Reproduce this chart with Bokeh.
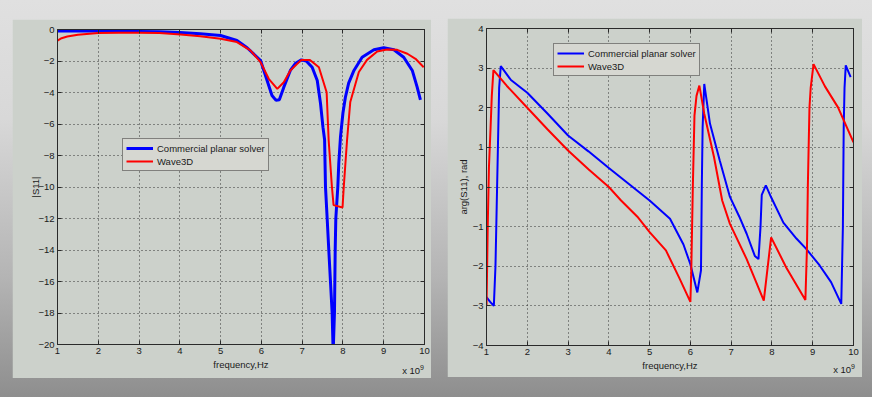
from bokeh.plotting import figure
from bokeh.layouts import row, column
from bokeh.models import (FixedTicker, LinearAxis, Legend, LegendItem, Range1d, Div,
                          CustomLabelingPolicy)
from bokeh.embed import file_html
from bokeh.resources import INLINE

# ---------------- data (frequency in GHz, axis note "x 10^9") ----------------
freq_ticks = [1, 2, 3, 4, 5, 6, 7, 8, 9, 10]
mag_ticks = [0, -2, -4, -6, -8, -10, -12, -14, -16, -18, -20]
phase_ticks = [-4, -3, -2, -1, 0, 1, 2, 3, 4]

series_names = ["Commercial planar solver", "Wave3D"]

# |S11| - commercial planar solver
mag_solver_f = [1.0, 1.5, 2.0, 2.5, 3.0, 3.5, 4.0, 4.5, 5.0, 5.4, 5.65, 5.98, 6.14, 6.26, 6.36,
                6.44, 6.55, 6.71, 6.84, 6.98, 7.1, 7.245, 7.37, 7.45, 7.51, 7.55, 7.572, 7.613,
                7.653, 7.694, 7.735, 7.76, 7.792, 7.81, 7.825, 7.874, 7.898, 7.94, 8.0, 8.06,
                8.14, 8.27, 8.47, 8.76, 9.0, 9.25, 9.49, 9.7, 9.82, 9.9]
mag_solver = [-0.1, -0.1, -0.1, -0.1, -0.12, -0.15, -0.19, -0.27, -0.38, -0.7, -1.16, -1.97,
              -3.24, -4.19, -4.5, -4.46, -3.66, -2.6, -2.14, -1.93, -2.0, -2.4, -3.24, -4.7,
              -6.2, -7.0, -10.0, -12.0, -14.0, -16.0, -18.0, -20.5, -18.0, -14.0, -12.0, -10.0,
              -8.5, -6.8, -5.3, -4.3, -3.4, -2.6, -1.76, -1.29, -1.16, -1.29, -1.76, -2.6,
              -3.66, -4.47]

# |S11| - Wave3D
mag_wave_f = [1.0, 1.1, 1.24, 1.5, 2.0, 2.5, 3.0, 3.5, 4.02, 4.5, 5.0, 5.4, 5.73, 5.98, 6.18,
              6.39, 6.55, 6.71, 6.98, 7.19, 7.41, 7.6, 7.65, 7.73, 7.77, 7.99, 8.02, 8.1, 8.18,
              8.39, 8.59, 8.84, 9.08, 9.33, 9.58, 9.78, 9.98]
mag_wave = [-0.7, -0.55, -0.45, -0.33, -0.22, -0.2, -0.2, -0.23, -0.32, -0.43, -0.59, -0.8,
            -1.33, -2.07, -3.13, -3.77, -3.35, -2.6, -1.93, -1.93, -2.4, -3.98, -7.05, -10.0,
            -11.15, -11.3, -10.0, -7.05, -4.6, -2.7, -1.93, -1.4, -1.27, -1.29, -1.54, -1.86,
            -2.4]

# arg(S11) - commercial planar solver
ph_solver_f = [1.0, 1.09, 1.18, 1.22, 1.25, 1.28, 1.31, 1.35, 1.6, 2.0, 2.5, 3.0, 3.5, 4.0,
               4.5, 5.0, 5.5, 5.83, 6.0, 6.17, 6.26, 6.28, 6.30, 6.34, 6.48, 6.72, 6.97, 7.2,
               7.38, 7.58, 7.67, 7.72, 7.75, 7.85, 7.98, 8.28, 8.6, 8.84, 9.17, 9.45, 9.70,
               9.74, 9.76, 9.78, 9.81, 9.93]
ph_solver = [-2.78, -2.9, -3.0, -2.0, -0.5, 1.0, 2.5, 3.05, 2.7, 2.38, 1.85, 1.3, 0.9, 0.48,
             0.07, -0.34, -0.8, -1.45, -1.95, -2.66, -2.1, 0.0, 1.5, 2.6, 1.6, 0.67, -0.25,
             -0.75, -1.18, -1.74, -1.82, -1.0, -0.2, 0.04, -0.26, -0.9, -1.3, -1.56, -1.98,
             -2.4, -2.95, -1.0, 1.5, 2.5, 3.07, 2.77]

# arg(S11) - Wave3D
ph_wave_f = [1.0, 1.01, 1.03, 1.06, 1.1, 1.13, 1.17, 1.5, 2.0, 2.5, 3.0, 3.5, 4.0, 4.3, 4.7,
             5.0, 5.4, 5.73, 6.0, 6.02, 6.06, 6.1, 6.15, 6.22, 6.34, 6.58, 6.78, 6.97, 7.38,
             7.8, 7.98, 8.35, 8.82, 8.86, 8.88, 8.92, 8.95, 9.02, 9.3, 9.62, 10.0]
ph_wave = [-3.0, -2.4, -1.0, 0.5, 1.5, 2.3, 2.95, 2.55, 2.0, 1.45, 0.92, 0.45, 0.0, -0.34,
           -0.75, -1.14, -1.6, -2.3, -2.9, -2.2, 0.0, 1.8, 2.3, 2.56, 1.85, 0.75, -0.34, -0.93,
           -1.82, -2.87, -1.27, -2.03, -2.85, -1.5, 0.0, 2.0, 2.5, 3.1, 2.54, 2.01, 1.13]

# ---------------- styling ----------------
PANEL = "#ccd1cb"
DARK = "#2a2a2a"
FONT = "Liberation Sans"
FS = "9.5px"
BLUE = "#0000ff"
RED = "#ff0000"


def style_axis(ax, ticks, show_labels=True, standoff=3):
    ax.ticker = FixedTicker(ticks=ticks)
    ax.major_tick_in = 4
    ax.major_tick_out = 0
    ax.minor_tick_line_color = None
    ax.major_tick_line_color = DARK
    ax.axis_line_color = DARK
    ax.major_label_text_font = FONT
    ax.major_label_text_color = "#1a1a1a"
    ax.axis_label_text_font = FONT
    ax.axis_label_text_font_size = FS
    ax.axis_label_text_font_style = "normal"
    ax.axis_label_text_color = "#1a1a1a"
    if show_labels:
        ax.major_label_text_font_size = FS
        ax.major_label_standoff = standoff
    else:
        ax.major_label_text_font_size = "1px"
        ax.major_label_standoff = 0
        ax.major_label_policy = CustomLabelingPolicy(code="if (false) { yield 0 }")


def make_fig(w, h, borders, yr, yticks, ylabel, ylabel_standoff):
    p = figure(width=w, height=h, x_range=Range1d(1, 10), y_range=Range1d(*yr),
               output_backend="svg", toolbar_location=None,
               min_border_left=borders[0], min_border_right=borders[1],
               min_border_top=borders[2], min_border_bottom=borders[3])
    p.background_fill_color = PANEL
    p.border_fill_color = PANEL
    p.outline_line_color = DARK
    style_axis(p.xaxis[0], freq_ticks, standoff=3)
    style_axis(p.yaxis[0], yticks, standoff=3)
    p.xaxis[0].axis_label = "frequency,Hz"
    p.xaxis[0].axis_label_standoff = 2
    p.yaxis[0].axis_label = ylabel
    p.yaxis[0].axis_label_standoff = ylabel_standoff
    top = LinearAxis()
    style_axis(top, freq_ticks, show_labels=False)
    p.add_layout(top, "above")
    right = LinearAxis()
    style_axis(right, yticks, show_labels=False)
    p.add_layout(right, "right")
    p.grid.grid_line_color = "#333333"
    p.grid.grid_line_dash = "1 3"
    p.grid.grid_line_width = 1
    p.xgrid.ticker = FixedTicker(ticks=freq_ticks)
    p.ygrid.ticker = FixedTicker(ticks=yticks)
    return p


def add_legend(p, r1, r2, loc):
    lg = Legend(items=[LegendItem(label=series_names[0], renderers=[r1]),
                       LegendItem(label=series_names[1], renderers=[r2])],
                location=loc)
    lg.label_text_font = FONT
    lg.label_text_font_size = FS
    lg.label_text_color = "#1a1a1a"
    lg.background_fill_color = "#d6d7d1"
    lg.background_fill_alpha = 1
    lg.border_line_color = DARK
    lg.border_line_width = 1
    lg.padding = 3
    lg.spacing = 1
    lg.margin = 0
    lg.glyph_width = 27
    lg.glyph_height = 12
    lg.label_height = 12
    lg.label_standoff = 4
    p.add_layout(lg)


def exponent_note(width, top_margin):
    return Div(text='x 10<sup style="font-size:7px">9</sup>', width=width, height=14,
               margin=(top_margin, 0, 0, 0),
               styles={"font-family": FONT, "font-size": FS, "color": "#1a1a1a",
                       "text-align": "right", "line-height": "14px"})


# ---------------- left panel: |S11| ----------------
p1 = make_fig(419, 359, (45, 7, 10, 34), (-20, 0), mag_ticks, "|S11|", -6)
r1 = p1.line(mag_solver_f, mag_solver, line_color=BLUE, line_width=3)
r2 = p1.line(mag_wave_f, mag_wave, line_color=RED, line_width=2)
add_legend(p1, r1, r2, (65, 173))
col1 = column(p1, exponent_note(412, -17), margin=(19, 0, 22, 12))

# ---------------- right panel: arg(S11) ----------------
p2 = make_fig(415, 359, (39, 9, 10, 32), (-4, 4), phase_ticks, "arg(S11), rad", 1)
r3 = p2.line(ph_solver_f, ph_solver, line_color=BLUE, line_width=2)
r4 = p2.line(ph_wave_f, ph_wave, line_color=RED, line_width=2)
add_legend(p2, r3, r4, (67, 269))
col2 = column(p2, exponent_note(408, -17), margin=(18, 10, 23, 16))

layout = row(col1, col2, margin=(0, 0, 0, 0),
             styles={"background": "linear-gradient(to bottom, #e0e0e0 0%, #d8d8d8 30%, #b4b4b4 70%, #8e8e8e 100%)"})

open("out.html", "w").write(file_html(layout, INLINE))
